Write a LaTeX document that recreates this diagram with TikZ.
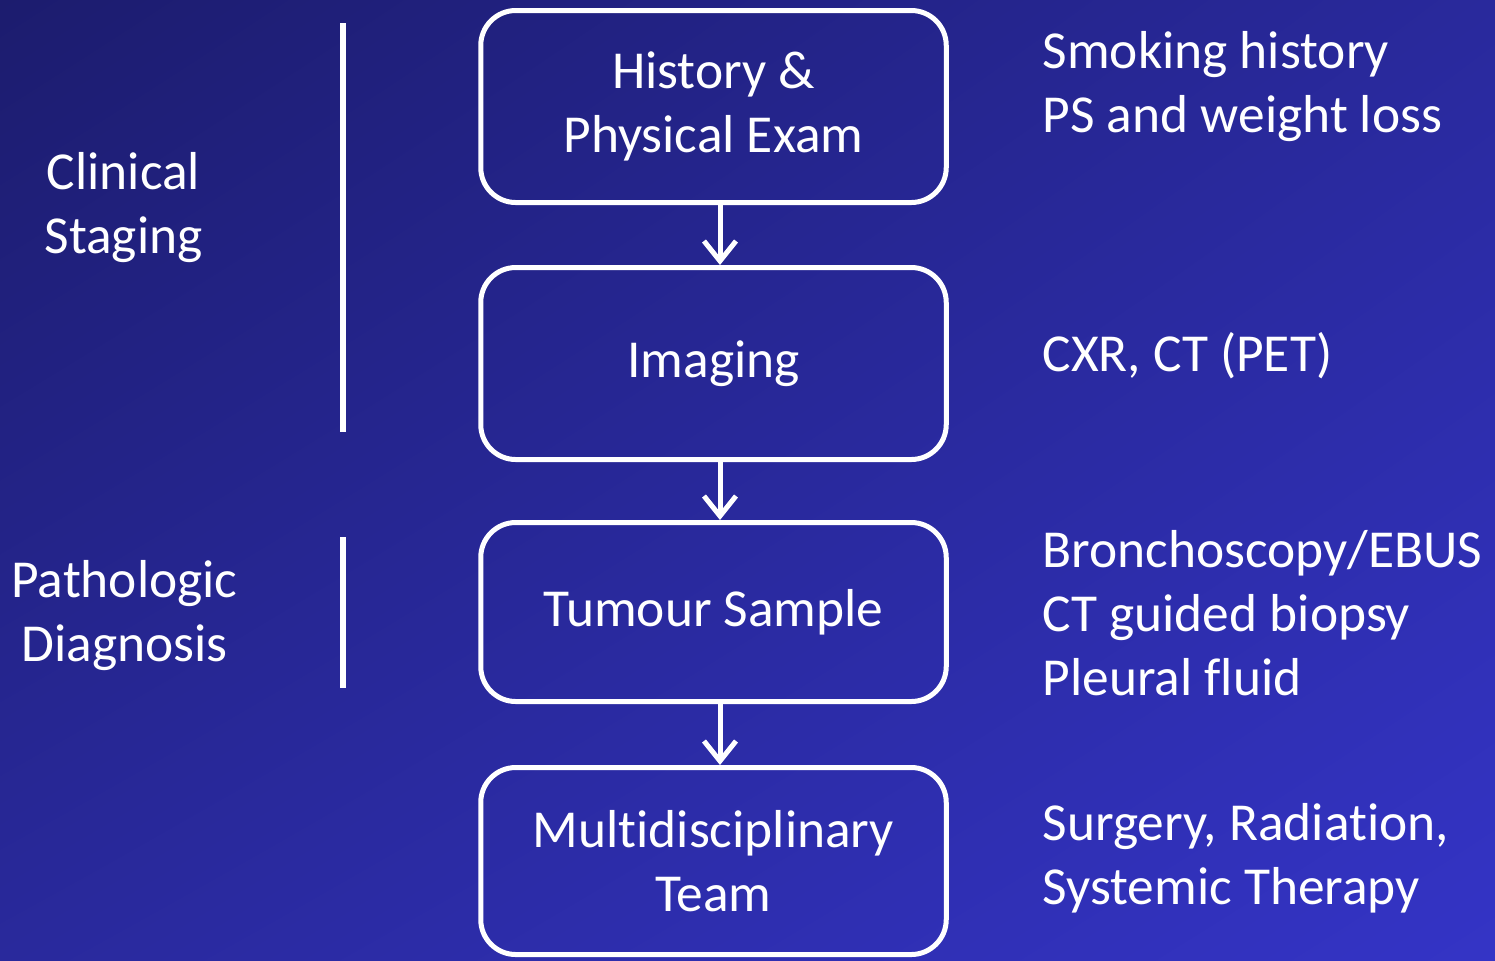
\documentclass[tikz,border=0pt]{standalone}
\usepackage{fontspec}
\setmainfont{Carlito}[Ligatures=CommonOff]
\usetikzlibrary{arrows.meta,shadings}
\definecolor{bgdark}{RGB}{28,28,110}
\definecolor{bgmid}{RGB}{41,41,156}
\definecolor{bglight}{RGB}{52,52,198}
\def\slidefont{\fontsize{15.2}{18.14}\selectfont}
\tikzset{
	stage/.style={draw=white, line width=0.05cm, rounded corners=0.35cm, minimum width=4.655cm, align=center, text=white, inner sep=0, font=\slidefont},
	note/.style={text=white, align=left, inner sep=0, anchor=base west, font=\slidefont},
	side/.style={text=white, align=center, inner sep=0, anchor=base, font=\slidefont},
	flow/.style={draw=white, line width=0.05cm, -{Straight Barb[length=2mm,width=3.2mm]}},
	bar/.style={draw=white, line width=0.06cm}
}

\begin{document}
\begin{tikzpicture}
			%%%%% START %%%%%
			
			\useasboundingbox (0, 0) rectangle (14.95, -9.6);
			\shade[upper left=bgdark, upper right=bgmid, lower left=bgmid, lower right=bglight] (0, 0) rectangle (14.95, -9.6);
			
			\node[stage, minimum height=1.92cm] (hist) at (7.135, -1.065) {History \&\\Physical Exam};
			\node[stage, minimum height=1.92cm] (img) at (7.135, -3.635) {Imaging};
			\node[stage, minimum height=1.79cm] (tum) at (7.135, -6.12) {Tumour Sample};
			\node[stage, minimum height=1.87cm] (mdt) at (7.135, -8.61) {Multidisciplinary\\Team};
			
			\draw[flow] ([xshift=0.065cm]hist.south) -- ([xshift=0.065cm]img.north);
			\draw[flow] ([xshift=0.065cm]img.south) -- ([xshift=0.065cm]tum.north);
			\draw[flow] ([xshift=0.065cm]tum.south) -- ([xshift=0.065cm]mdt.north);
			
			\draw[bar] (3.43, -0.23) -- (3.43, -4.32);
			\draw[bar] (3.43, -5.37) -- (3.43, -6.88);
			
			\node[side] (clin) at (1.235, -2.53) {Clinical\\Staging};
			\node[side] (path) at (1.245, -6.61) {Pathologic\\Diagnosis};
			
			\node[note] (smoke) at (10.42, -1.32) {Smoking history\\PS and weight loss};
			\node[note] (scan) at (10.42, -3.71) {CXR, CT (PET)};
			\node[note] (biop) at (10.42, -6.95) {Bronchoscopy/EBUS\\CT guided biopsy\\Pleural fluid};
			\node[note] (treat) at (10.42, -9.04) {Surgery, Radiation,\\Systemic Therapy};
			
			%%%%% END %%%%%
\end{tikzpicture}
\end{document}
